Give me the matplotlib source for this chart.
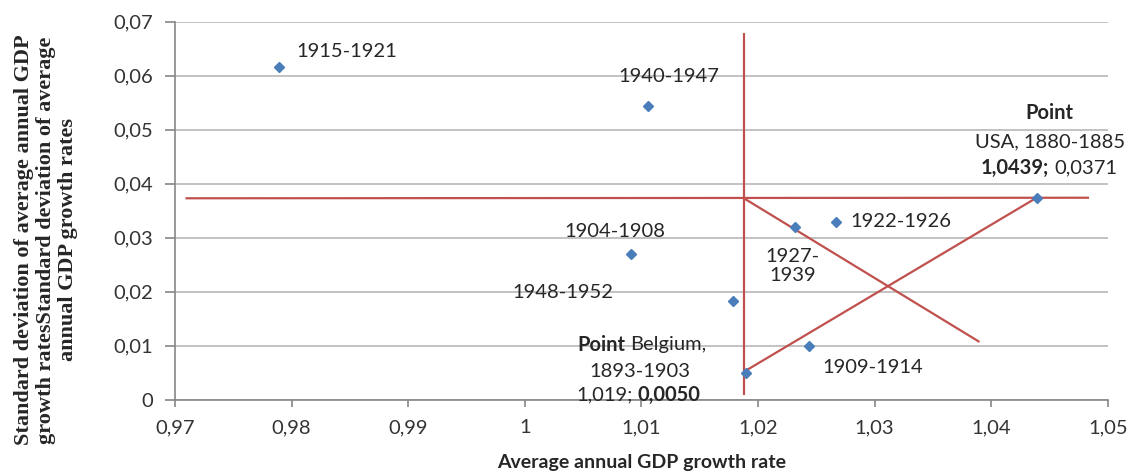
import matplotlib
matplotlib.use("Agg")
import matplotlib.pyplot as plt

# ---- data ----
periods = ["1915-1921", "1940-1947", "1904-1908", "1948-1952", "1927-1939",
           "1922-1926", "1909-1914", "Belgium 1893-1903", "USA 1880-1885"]
growth = [0.9789, 1.0106, 1.0091, 1.0179, 1.0232, 1.0267, 1.0244, 1.0190, 1.0439]
stdev = [0.0616, 0.0544, 0.0270, 0.0183, 0.0320, 0.0330, 0.0100, 0.0050, 0.0373]

x_ticks = [0.97, 0.98, 0.99, 1.00, 1.01, 1.02, 1.03, 1.04, 1.05]
x_tick_labels = ["0,97", "0,98", "0,99", "1", "1,01", "1,02", "1,03", "1,04", "1,05"]
y_ticks = [0, 0.01, 0.02, 0.03, 0.04, 0.05, 0.06, 0.07]
y_tick_labels = ["0", "0,01", "0,02", "0,03", "0,04", "0,05", "0,06", "0,07"]

# red guide lines
hline_x = [0.9709, 1.0484]
hline_y = [0.0373, 0.0374]
vline_x = [1.0188, 1.0188]
vline_y = [0.0009, 0.0680]
diag1_x = [1.0188, 1.0390]
diag1_y = [0.0373, 0.0107]
diag2_x = [1.0189, 1.0439]
diag2_y = [0.0053, 0.0374]

SANS = ["Lato", "DejaVu Sans"]
TXT = "#262626"
BLUE = "#4A7EBB"
RED = "#C0504D"
FS = 14.5

fig = plt.figure(figsize=(11.31, 4.76), dpi=100)
ax = fig.add_axes([0.1547, 0.1603, 0.9794 - 0.1547, 0.9544 - 0.1603])
ax.set_xlim(0.97, 1.05)
ax.set_ylim(0, 0.07)

ax.set_yticks(y_ticks)
ax.set_yticklabels(y_tick_labels)
ax.set_xticks(x_ticks)
ax.set_xticklabels(x_tick_labels)
for lab in ax.get_xticklabels() + ax.get_yticklabels():
    lab.set_family(SANS)
    lab.set_fontsize(FS)
    lab.set_color("#333333")
ax.tick_params(axis="y", direction="out", length=7, width=1.2, color="#868686", pad=9)
ax.tick_params(axis="x", direction="out", length=5, width=1.2, color="#868686", pad=9)

ax.grid(axis="y", color="#BDBDBD", linewidth=1.3)
ax.set_axisbelow(True)
for s in ["top", "right"]:
    ax.spines[s].set_visible(False)
for s in ["left", "bottom"]:
    ax.spines[s].set_color("#868686")
    ax.spines[s].set_linewidth(1.2)

# red lines
for xs, ys in [(hline_x, hline_y), (vline_x, vline_y), (diag1_x, diag1_y), (diag2_x, diag2_y)]:
    ax.plot(xs, ys, color=RED, linewidth=1.6, zorder=3, solid_capstyle="butt")

# points
ax.plot(growth, stdev, linestyle="none", marker="D", markersize=5.2,
        color=BLUE, markeredgecolor=BLUE, zorder=4)

def t(x, y, s, ha="center", va="center", weight="normal", ls=1.05):
    ax.text(x, y, s, ha=ha, va=va, fontsize=FS, family=SANS, color=TXT,
            weight=weight, zorder=5, linespacing=ls)

t(0.98039, 0.06439, "1915-1921", ha="left")
t(1.01232, 0.0599, "1940-1947")
t(1.00777, 0.03106, "1904-1908")
t(1.00331, 0.01976, "1948-1952")
t(1.02296, 0.02476, "1927-\n1939", ls=1.15)
t(1.02794, 0.03291, "1922-1926", ha="left")
t(1.02554, 0.00587, "1909-1914", ha="left")

# USA annotation
t(1.04502, 0.0531, "Point", weight="bold")
t(1.04502, 0.04772, "USA, 1880-1885")
t(1.04498, 0.04291, "1,0439;", ha="right", weight="bold")
t(1.04545, 0.04291, "0,0371", ha="left")

# Belgium annotation
t(1.00863, 0.01013, "Point", ha="right", weight="bold")
t(1.00905, 0.01013, "Belgium,", ha="left")
t(1.00991, 0.00513, "1893-1903")
t(1.00925, 0.00087, "1,019;", ha="right")
t(1.00970, 0.00087, "0,0050", ha="left", weight="bold")

ax.set_xlabel("Average annual GDP growth rate", fontsize=14, family=SANS,
              weight="bold", color=TXT, labelpad=13)

fig.text(0.0405, 0.4958,
         "Standard deviation of average annual GDP\n"
         "growth ratesStandard deviation of average\n"
         "annual GDP growth rates",
         rotation=90, ha="center", va="center", multialignment="center",
         family=["Liberation Serif", "DejaVu Serif"], weight="bold",
         fontsize=16, color=TXT, linespacing=1.12)

fig.savefig("out.png", dpi=100)
